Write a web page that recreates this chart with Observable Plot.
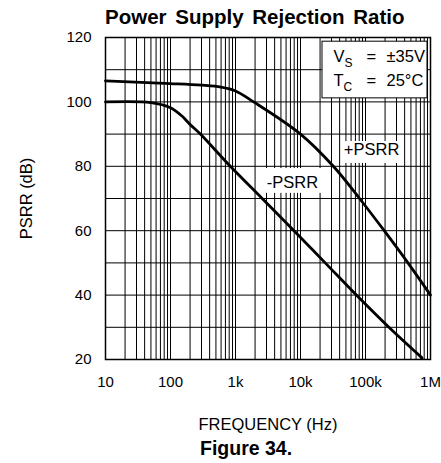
<!DOCTYPE html>
<html><head><meta charset="utf-8">
<script src="https://cdn.jsdelivr.net/npm/d3@7"></script>
<script src="https://cdn.jsdelivr.net/npm/@observablehq/plot@0.6"></script>
<style>
body{margin:0;background:#fff;width:441px;height:463px;overflow:hidden;font-family:"Liberation Sans",Arial,sans-serif;color:#000;}
#title{height:30px;line-height:34px;font-weight:bold;font-size:20.5px;padding-left:105px;word-spacing:3px;white-space:nowrap;}
#caption{height:27px;line-height:24px;font-weight:bold;font-size:19.5px;padding-left:200px;white-space:nowrap;}
</style></head><body>
<div id="title">Power Supply Rejection Ratio</div>
<div id="chart"></div>
<div id="caption">Figure 34.</div>
<script>
// +PSRR curve (frequency in Hz, PSRR in dB)
const freqPlus = [10, 100, 300, 600, 1000, 1900, 10000, 32000, 81000, 194000, 450000, 1000000];
const psrrPlus = [106.5, 105.7, 105.2, 104.6, 103.4, 100.0, 90.0, 80.0, 70.0, 60.0, 50.0, 40.0];
// -PSRR curve
const freqMinus = [10, 50, 100, 150, 200, 288, 832, 2570, 7940, 24000, 72400, 229000, 741000];
const psrrMinus = [100.0, 99.8, 98.2, 95.6, 93.0, 90.0, 80.0, 70.0, 60.0, 50.0, 40.0, 30.0, 20.5];

// tick labels
const xTickValues = [10, 100, 1000, 10000, 100000, 1000000];
const xTickLabels = ["10", "100", "1k", "10k", "100k", "1M"];
const yTickValues = [20, 40, 60, 80, 100, 120];
const yGridValues = [20, 30, 40, 50, 60, 70, 80, 90, 100, 110, 120];

// texts
const curveLabels = ["+PSRR", "-PSRR"];
const legendLines = [["V", "S", "=", "±35V"], ["T", "C", "=", "25°C"]];
const xAxisTitle = "FREQUENCY (Hz)";
const yAxisTitle = "PSRR (dB)";

// annotation placement (data space)
const curveLabelPos = [{x: 124000, y: 85.2}, {x: 7500, y: 74.8}];
const curveLabelBoxes = [
  {x1: 45900, x2: 345000, y1: 80.9, y2: 87.7},
  {x1: 2430, x2: 25100, y1: 71.6, y2: 79.3}
];
const legendBox = [{x1: 21800, x2: 899000, y1: 101.1, y2: 118.7}];
const legendPos = [{x: 32200, y: 113.9}, {x: 32200, y: 106.5}];

const plusData = freqPlus.map((f, i) => ({f, db: psrrPlus[i]}));
const minusData = freqMinus.map((f, i) => ({f, db: psrrMinus[i]}));
const gridFreqs = d3.scaleLog().domain([10, 1e6]).ticks();

const plot = Plot.plot({
  width: 441,
  height: 406,
  marginTop: 7,
  marginLeft: 105,
  marginRight: 11,
  marginBottom: 77,
  style: {fontFamily: '"Liberation Sans", Arial, sans-serif', fontSize: "15px", color: "#000", background: "#fff", overflow: "visible"},
  x: {type: "log", domain: [10, 1e6]},
  y: {domain: [20, 120]},
  marks: [
    Plot.ruleX(gridFreqs, {x: d => d, y1: 20, y2: 120, stroke: "#000", strokeWidth: 1}),
    Plot.ruleY(yGridValues, {y: d => d, x1: 10, x2: 1e6, stroke: "#000", strokeWidth: 1}),
    Plot.rect(curveLabelBoxes, {x1: "x1", x2: "x2", y1: "y1", y2: "y2", fill: "#fff"}),
    Plot.rect(legendBox, {x1: "x1", x2: "x2", y1: "y1", y2: "y2", fill: "#fff", stroke: "#000", strokeWidth: 1}),
    Plot.frame({stroke: "#000", strokeWidth: 1.5}),
    Plot.line(plusData, {x: "f", y: "db", curve: "catmull-rom", stroke: "#000", strokeWidth: 2.8}),
    Plot.line(minusData, {x: "f", y: "db", curve: "catmull-rom", stroke: "#000", strokeWidth: 2.8}),
    Plot.text(curveLabelPos, {x: "x", y: "y", text: (d, i) => curveLabels[i], fontSize: 16.5, textAnchor: "middle", lineAnchor: "middle", fill: "#000"}),
    Plot.text(legendPos, {x: "x", y: "y", text: (d, i) => legendLines[i].join(" "), fontSize: 16.5, textAnchor: "start", lineAnchor: "middle", fill: "#000"}),
    Plot.text([yAxisTitle], {frameAnchor: "left", text: d => d, rotate: -90, dx: -79, fontSize: 16.5, textAnchor: "middle", lineAnchor: "middle", fill: "#000"}),
    Plot.text([xAxisTitle], {frameAnchor: "bottom", text: d => d, dy: 65, fontSize: 16.5, textAnchor: "middle", lineAnchor: "middle", fill: "#000"}),
    Plot.axisX({ticks: xTickValues, tickFormat: d => xTickLabels[xTickValues.indexOf(d)], tickSize: 0, tickPadding: 17, fontSize: 15, label: null}),
    Plot.axisY({ticks: yTickValues, tickSize: 0, tickPadding: 14, fontSize: 15, label: null})
  ]
});

// subscripts in the legend box
d3.select(plot).selectAll("text").each(function () {
  const t = this.textContent;
  const parts = legendLines.find(p => p.join(" ") === t);
  if (!parts) return;
  const sel = d3.select(this);
  const x0 = +this.getAttribute("x") || 0;
  sel.text(null);
  sel.append("tspan").text(parts[0]);
  sel.append("tspan").attr("font-size", 12).attr("dy", 4.5).text(parts[1]);
  sel.append("tspan").attr("x", x0 + 33).attr("dy", -4.5).text(parts[2]);
  sel.append("tspan").attr("x", x0 + 53).text(parts[3]);
});

document.getElementById("chart").appendChild(plot);
</script>
</body></html>
